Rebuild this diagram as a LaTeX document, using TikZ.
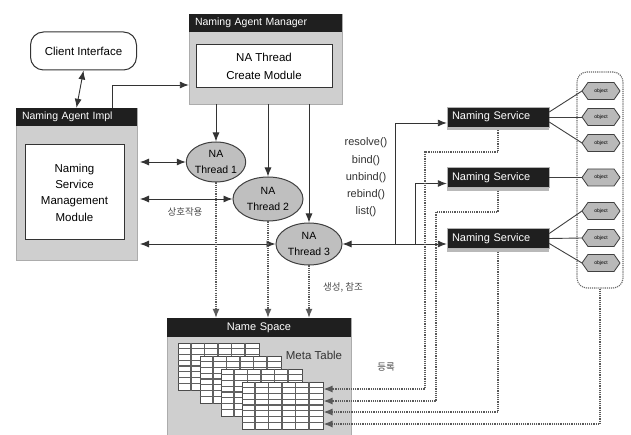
\documentclass[tikz,border=0pt]{standalone}
\usepackage{fontspec}
\setmainfont{Liberation Sans}
\newfontfamily\krfont{Noto Sans CJK KR}
\usetikzlibrary{arrows.meta,shapes.geometric,shapes.symbols,calc}
\newcommand\fs[2]{\fontsize{#1}{#2}\selectfont}
\tikzset{
 panel/.style={draw=gray!65, fill=gray!38, inner sep=0},
 hdr/.style={fill=black!88, text=white, inner ysep=0, inner xsep=6pt, minimum height=18pt, align=left, font=\fs{10.5}{12}},
 wbox/.style={draw=black!80, line width=1pt, fill=white, align=center, font=\fs{11.5}{18}, inner sep=0},
 thread/.style={ellipse, draw=black!75, line width=1pt, fill=gray!50, align=center, font=\fs{10.5}{16}, inner sep=0},
 nsbox/.style={fill=black!88, draw=gray!60, text=white, font=\fs{11}{13}, minimum width=102pt, minimum height=20pt, text width=92pt, inner xsep=5pt, inner ysep=0, align=left},
 obj/.style={signal, signal to=east and west, signal pointer angle=110, draw=black!75, line width=0.8pt, fill=gray!55, font=\fs{5}{6}, minimum width=38pt, minimum height=17pt, inner sep=0},
 tip/.tip={Latex[length=9pt,width=7pt]},
 arr/.style={-tip, line width=0.9pt, draw=black!80},
 biarr/.style={tip-tip, line width=0.9pt, draw=black!80},
 darr/.style={-tip, densely dotted, line width=1.2pt, draw=black!65},
 plain/.style={line width=0.9pt, draw=black!75},
 lbl/.style={font=\fs{11}{13.5}, text=black!80, align=center, inner sep=0},
 kr/.style={font=\krfont\fs{9.5}{11}, text=black!70, inner sep=0},
 tabnode/.style={draw=black!70, line width=1pt, fill=white, minimum width=81pt, minimum height=47pt, inner sep=0},
 tabline/.style={draw=black!62, line width=1.1pt},
}
\newcommand\mtab[3]{%
 \node[tabnode] (#3) at (#1+40.5,#2+23.5) {};
 \foreach \i in {1,...,5} \draw[tabline] ($(#3.north west)+(\i*13.5,0)$) -- ($(#3.south west)+(\i*13.5,0)$);
 \foreach \j in {1,...,7} \draw[tabline] ($(#3.north west)+(0,\j*5.875)$) -- ($(#3.north east)+(0,\j*5.875)$);
}
\begin{document}
\begin{tikzpicture}[x=1pt,y=-1pt]
\fill[white] (0,0) rectangle (631,435);
\useasboundingbox (0,0) rectangle (631,435);

% Client interface
\node[draw=black!80, line width=1pt, rounded corners=13pt, minimum width=106pt, minimum height=38pt, font=\fs{11.5}{14}] (ci) at (83.5,51) {Client Interface};

% Manager
\node[panel, minimum width=153pt, minimum height=90pt] (mgr) at (265.5,59) {};
\node[hdr, text width=141pt] (mgrh) at (265.5,23) {Naming Agent Manager};
\node[wbox, minimum width=136pt, minimum height=43pt] (mgrm) at (264,66.5) {NA Thread\\Create Module};

% Impl
\node[panel, minimum width=121pt, minimum height=152pt] (impl) at (76.5,184) {};
\node[hdr, text width=109pt] (implh) at (76.5,117) {Naming Agent Impl};
\node[wbox, minimum width=99pt, minimum height=95pt, font=\fs{11.5}{16.3}] (implm) at (74.5,192.5) {Naming\\Service\\Management\\Module};

% Threads
\node[thread, minimum width=58pt, minimum height=40pt] (t1) at (216,162) {NA\\Thread 1};
\node[thread, minimum width=70pt, minimum height=44pt] (t2) at (268,199) {NA\\Thread 2};
\node[thread, minimum width=66pt, minimum height=42pt] (t3) at (309,244) {NA\\Thread 3};

% Name space
\node[panel, minimum width=184pt, minimum height=117pt] (nsp) at (259,376.5) {};
\node[hdr, align=center, text width=172pt, minimum height=19pt, font=\fs{11}{12}] (nsph) at (259,327.5) {Name Space};
\mtab{178}{343}{tab1}
\mtab{200}{356}{tab2}
\mtab{221}{369}{tab3}
\mtab{242}{382}{tab4}
\node[lbl, font=\fs{11.5}{13}] (mt) at (314,355) {Meta Table};

% Naming services
\node[nsbox] (ns1) at (498,117) {Naming Service};
\node[nsbox] (ns2) at (498,177.5) {Naming Service};
\node[nsbox] (ns3) at (498,238.5) {Naming Service};
\foreach \n in {ns1,ns2,ns3} \fill[gray!55] (\n.south west) rectangle ($(\n.south east)+(0,3)$);

% Objects
\node[draw=black!60, densely dotted, line width=1.1pt, rounded corners=10pt, minimum width=46pt, minimum height=216pt] (og) at (600,180) {};
\draw[plain] ([yshift=5pt]ns1.east) -- (582,91);
\draw[plain] (ns1.east) -- (582,117);
\draw[plain] ([yshift=-5pt]ns1.east) -- (582,143);
\draw[plain] (ns2.east) -- (582,177.5);
\draw[plain] ([yshift=5pt]ns3.east) -- (582,211);
\draw[plain] (ns3.east) -- (582,238);
\draw[plain] ([yshift=-5pt]ns3.east) -- (582,263);
\node[obj] (o1) at (601,91) {object};
\node[obj] (o2) at (601,117) {object};
\node[obj] (o3) at (601,143) {object};
\node[obj] (o4) at (601,177.5) {object};
\node[obj] (o5) at (601,211) {object};
\node[obj] (o6) at (601,238) {object};
\node[obj] (o7) at (601,263) {object};

% Arrows
\coordinate (k1) at (112,85);
\draw[biarr] (ci.south) -- (implh.north);
\draw[arr] (implh.north -| k1) -- (k1) -- (k1 -| mgr.west);
\draw[arr] (mgr.south -| t1.north) -- (t1.north);
\draw[arr] (mgr.south -| t2.north) -- (t2.north);
\draw[arr] (mgr.south -| t3.north) -- (t3.north);
\coordinate (ix) at (140,0);
\draw[biarr] (ix |- t1.west) -- (t1.west);
\draw[biarr] (ix |- t2.west) -- (t2.west);
\draw[biarr] (ix |- t3.west) -- (t3.west);
\draw[darr] (t1.south) -- (t1.south |- nsph.north);
\draw[darr] (t2.south) -- (t2.south |- nsph.north);
\draw[darr] (t3.south) -- (t3.south |- nsph.north);

\draw[biarr] (t3.east) -- (t3.east -| ns3.west);
\coordinate (b1) at (395,0);
\coordinate (b2) at (415,0);
\draw[arr] (b1 |- t3.east) -- (b1 |- 0,123) -- (ns1.west |- 0,123);
\draw[arr] (b2 |- t3.east) -- (b2 |- 0,183.5) -- (ns2.west |- 0,183.5);

\node[lbl, font=\fs{11}{17.2}] (meth) at (366,177.5) {resolve()\\bind()\\unbind()\\rebind()\\list()};

% dotted returns
\coordinate (r1) at (0,389);
\coordinate (r2) at (0,401);
\coordinate (r3) at (0,412);
\coordinate (r4) at (0,424);
\draw[darr] ($(ns1.south)+(0,3)$) |- (425,152) |- (tab4.east |- r1);
\draw[darr] ($(ns2.south)+(0,3)$) |- (436,212) |- (tab4.east |- r2);
\draw[darr] ($(ns3.south)+(0,3)$) |- (tab4.east |- r3);
\draw[darr] (og.south) |- (tab4.east |- r4);

% Korean labels
\node[kr] (kl1) at (185,212) {상호작용};
\node[kr] (kl2) at (343,287) {생성, 참조};
\node[kr] (kl3) at (386,367) {등록};
\end{tikzpicture}
\end{document}
